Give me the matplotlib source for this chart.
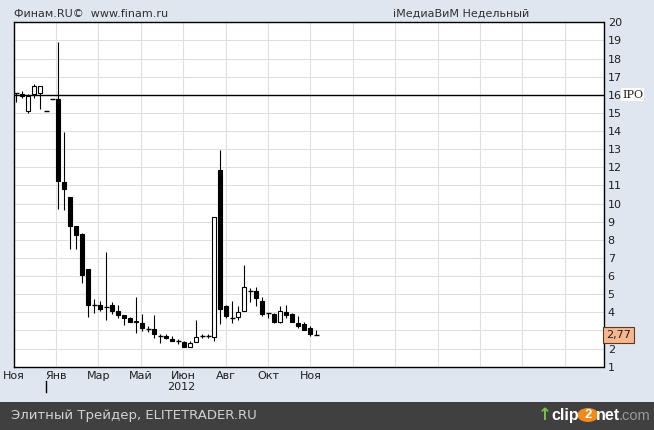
import numpy as np
import matplotlib
matplotlib.use("Agg")
import matplotlib.pyplot as plt
from matplotlib.patches import Rectangle, Circle
import matplotlib.transforms as mtrans

# ---- data (weekly candles, Nov 2011 - Nov 2012) ----
opens  = [16.10, 16.05, 15.10, 16.03, 16.12, 15.10, 15.76, 15.76, 11.20, 10.34,
          8.74, 8.34, 6.39, 4.40, 4.43, 4.28, 4.38, 4.06, 3.83, 3.66,
          3.52, 3.42, 3.09, 3.09, 2.72, 2.69, 2.54, 2.43, 2.34, 2.10,
          2.38, 2.69, 2.72, 2.65, 11.83, 4.34, 3.66, 3.73, 4.06, 5.16,
          5.20, 4.65, 3.94, 3.88, 3.48, 4.03, 3.92, 3.42, 3.33, 3.11, 2.77]
highs  = [16.10, 16.20, 16.05, 16.58, 16.49, 15.10, 15.76, 18.90, 13.97, 10.34,
          8.74, 8.40, 6.39, 4.71, 4.60, 7.33, 4.58, 4.38, 3.83, 3.75,
          4.83, 3.88, 3.24, 3.83, 2.83, 2.83, 2.72, 2.54, 2.41, 2.41,
          3.55, 2.83, 2.80, 9.26, 12.97, 4.43, 4.60, 4.34, 6.63, 5.35,
          5.41, 4.86, 3.97, 3.97, 4.34, 4.43, 3.97, 3.79, 3.48, 3.24, 3.00]
lows   = [15.60, 15.83, 15.00, 15.81, 15.19, 15.10, 15.76, 9.72, 9.62, 7.51,
          7.51, 5.60, 3.72, 3.97, 4.05, 3.57, 3.92, 3.68, 3.29, 3.48,
          2.87, 2.96, 2.93, 2.57, 2.32, 2.52, 2.41, 2.27, 2.10, 2.10,
          2.38, 2.57, 2.60, 2.40, 3.33, 3.70, 3.42, 3.57, 4.06, 4.56,
          4.34, 3.82, 3.70, 3.40, 3.42, 3.66, 3.48, 3.15, 3.05, 2.72, 2.77]
closes = [16.10, 15.94, 15.92, 16.49, 16.49, 15.10, 15.76, 11.27, 10.82, 8.74,
          8.25, 6.08, 4.41, 4.40, 4.20, 4.28, 4.10, 3.84, 3.68, 3.48,
          3.44, 3.11, 3.09, 2.83, 2.72, 2.58, 2.41, 2.43, 2.10, 2.32,
          2.65, 2.69, 2.72, 9.26, 4.16, 3.79, 3.66, 4.03, 5.41, 5.16,
          4.80, 3.92, 3.94, 3.48, 4.06, 3.84, 3.48, 3.24, 3.05, 2.78, 2.77]

month_labels = ["Ноя", "Янв", "Мар", "Май", "Июн", "Авг", "Окт", "Ноя"]
y_ticks = list(range(1, 21))
ipo_level = 16
last_price = 2.77
last_price_label = "2,77"
year_label = "2012"
year_start_index = 5

# ---- figure ----
W, H = 654, 430
fig = plt.figure(figsize=(W / 100, H / 100), dpi=100)
bg = "#e0e6f0"
fig.patch.set_facecolor(bg)

left_px, right_px, top_px, bot_px = 13.7, 603.5, 22.3, 366.7
ax = fig.add_axes([left_px / W, 1 - bot_px / H, (right_px - left_px) / W, (bot_px - top_px) / H])
ax.set_facecolor("white")

n = len(opens)
x = np.arange(n)
px_per_bar = 6.0
x0_px = 16.3
xmin = (left_px - x0_px) / px_per_bar
xmax = (right_px - x0_px) / px_per_bar
ax.set_xlim(xmin, xmax)
ax.set_ylim(1, 20)

# grid
grid_step = 42.4 / px_per_bar
grid_x = xmin + grid_step * np.arange(1, 14)
for gx in grid_x:
    ax.axvline(gx, color="#dde0e0", lw=0.8, zorder=0)
for yv in y_ticks:
    ax.axhline(yv, color="#dde0e0", lw=0.8, zorder=0)

# IPO line
ax.axhline(ipo_level, color="black", lw=1.0, zorder=1)

# candles
o = np.array(opens); c = np.array(closes); h = np.array(highs); l = np.array(lows)
w = 0.72
ax.vlines(x, l, h, color="black", lw=0.8, zorder=2)
up = c > o
down = c < o
flat = c == o
ax.bar(x[down], (o - c)[down], bottom=c[down], width=w, color="black",
       edgecolor="black", lw=0.8, zorder=3)
ax.bar(x[up], (c - o)[up], bottom=o[up], width=w, color="white",
       edgecolor="black", lw=0.8, zorder=3)
ax.hlines(o[flat], x[flat] - w / 2 - 0.05, x[flat] + w / 2 + 0.05, color="black", lw=1.0, zorder=3)

for s in ax.spines.values():
    s.set_color("black")
    s.set_linewidth(1.0)

# right axis labels (the label hidden by the price box is left out)
hidden = int(round(last_price))
ax.yaxis.tick_right()
ax.set_yticks(y_ticks)
ax.set_yticklabels(["" if v == hidden else str(v) for v in y_ticks], fontsize=8, color="#202020")
ax.tick_params(axis="y", length=0, pad=3)

# x labels
ax.set_xticks(np.concatenate([[xmin], grid_x[:7]]))
ax.set_xticklabels(month_labels, fontsize=8, color="#202020")
ax.tick_params(axis="x", length=0, pad=3)

# IPO label
tr = mtrans.blended_transform_factory(ax.transAxes, ax.transData)
span = right_px - left_px
ax.text(1 + (622 - right_px) / span, ipo_level, "IPO", transform=tr,
        fontsize=8, family="DejaVu Serif", va="center", ha="left", color="#202020",
        bbox=dict(facecolor="white", edgecolor="none", pad=1.0), clip_on=False)

# last price box
ax.text(1 + (606 - right_px) / span, last_price, last_price_label, transform=tr,
        fontsize=8, va="center", ha="left", color="#202020",
        bbox=dict(facecolor="#f5b690", edgecolor="#5a3a20", lw=0.8, pad=2.2), clip_on=False, zorder=5)
ax.plot([1.0, 1 + 3 / span], [last_price, last_price], transform=tr,
        color="black", lw=0.8, clip_on=False)

# year marker and year label
trx = mtrans.blended_transform_factory(ax.transData, fig.transFigure)
ax.plot([year_start_index, year_start_index], [1 - 381 / H, 1 - 392 / H], transform=trx,
        color="black", lw=1.0, clip_on=False)
ax.text((year_start_index + n - 1) / 2, 1 - 387 / H, year_label, transform=trx,
        fontsize=8, ha="center", va="center", color="#202020")

# header texts
fig.text(14 / W, 1 - 14 / H, "Финам.RU©  www.finam.ru", fontsize=8, color="#303030",
         ha="left", va="center")
fig.text(461 / W, 1 - 14 / H, "iМедиаВиМ Недельный", fontsize=8, color="#303030",
         ha="center", va="center")

# footer band
fig.patches.append(Rectangle((0, 0), 1, 28 / H, transform=fig.transFigure,
                             facecolor="#404040", edgecolor="none", zorder=0))
fig.text(11 / W, 14.5 / H, "Элитный Трейдер, ELITETRADER.RU", fontsize=9.5,
         color="#d2d2d2", ha="left", va="center")
# clip2net logo (text)
fy = 14.5 / H
fig.text(545 / W, 15 / H, "↑", fontsize=12, fontweight="bold", color="#7cc242",
         ha="center", va="center")
fig.text(551 / W, fy, "clip", fontsize=11.5, fontweight="bold", family="Liberation Sans",
         color="white", ha="left", va="center")
fig.patches.append(Circle((588 / W, 15 / H), 7.0 / H, transform=fig.transFigure,
                          facecolor="#f08a1c", edgecolor="none", zorder=1))
fig.text(588 / W, fy, "2", fontsize=9.5, fontweight="bold", family="Liberation Sans",
         color="white", ha="center", va="center", zorder=2)
fig.text(596 / W, fy, "net", fontsize=11.5, fontweight="bold", family="Liberation Sans",
         color="white", ha="left", va="center")
fig.text(619 / W, fy, ".com", fontsize=10.5, family="Liberation Sans", color="#9a9a9a",
         ha="left", va="center")

fig.savefig("out.png", dpi=100, facecolor=fig.get_facecolor())
